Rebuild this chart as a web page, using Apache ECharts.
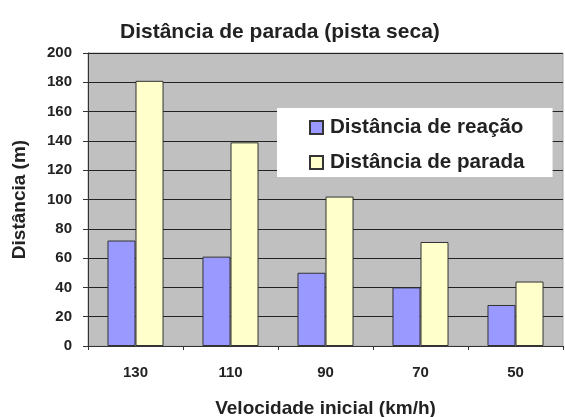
<!DOCTYPE html>
<html><head><meta charset="utf-8">
<script src="https://cdn.jsdelivr.net/npm/echarts@6/dist/echarts.min.js"></script>
<style>html,body{margin:0;padding:0;background:#fff}#c{width:565px;height:417px}</style>
</head><body><div id="c"></div>
<script>
const categories = ['130', '110', '90', '70', '50'];
const reacao = [72, 61, 50, 40, 28];
const parada = [181, 139, 102, 71, 44];
const seriesNames = ['Distância de reação', 'Distância de parada'];
const titleText = 'Distância de parada (pista seca)';
const xName = 'Velocidade inicial (km/h)';
const yName = 'Distância (m)';

const FONT = '"Liberation Sans", Arial, sans-serif';
const chart = echarts.init(document.getElementById('c'), null, {renderer: 'canvas'});
chart.setOption({
  animation: false,
  backgroundColor: '#fff',
  textStyle: {fontFamily: FONT},
  title: {
    text: titleText, left: 115, top: 17,
    textStyle: {fontFamily: FONT, fontSize: 21, fontWeight: 'bold', color: '#222'}
  },
  legend: {
    orient: 'vertical', left: 277, top: 108,
    backgroundColor: '#fff',
    padding: [9, 28, 4, 32],
    itemGap: 14,
    itemWidth: 13, itemHeight: 13,
    icon: 'rect',
    textStyle: {fontFamily: FONT, fontSize: 20.6, fontWeight: 'bold', color: '#222', padding: [0, 0, 0, 2]},
    data: seriesNames
  },
  grid: {
    left: 88, right: 2, top: 53, bottom: 71,
    outerBoundsMode: 'none', containLabel: false,
    show: true, backgroundColor: '#c0c0c0', borderColor: '#aaa', borderWidth: 1
  },
  xAxis: {
    type: 'category', data: categories,
    name: xName, nameLocation: 'middle', nameGap: 53,
    nameTextStyle: {fontFamily: FONT, fontSize: 19, fontWeight: 'bold', color: '#222'},
    axisLine: {show: true, lineStyle: {color: '#333', width: 1}},
    axisTick: {show: true, length: 4, lineStyle: {color: '#333'}},
    axisLabel: {fontFamily: FONT, fontSize: 15, fontWeight: 'bold', color: '#222', margin: 19}
  },
  yAxis: {
    type: 'value', min: 0, max: 200, interval: 20,
    name: yName, nameLocation: 'middle', nameGap: 59, nameRotate: 90,
    nameTextStyle: {fontFamily: FONT, fontSize: 19, fontWeight: 'bold', color: '#222'},
    axisLine: {show: true, lineStyle: {color: '#333', width: 1}},
    axisTick: {show: true, length: 5, lineStyle: {color: '#333'}},
    axisLabel: {fontFamily: FONT, fontSize: 15, fontWeight: 'bold', color: '#222', margin: 16},
    splitLine: {show: true, lineStyle: {color: '#222', width: 1}}
  },
  series: [
    {
      name: seriesNames[0], type: 'bar', data: reacao,
      barGap: '0%', barCategoryGap: '41%',
      itemStyle: {color: '#9999ff', borderColor: '#333', borderWidth: 1}
    },
    {
      name: seriesNames[1], type: 'bar', data: parada,
      itemStyle: {color: '#ffffcc', borderColor: '#333', borderWidth: 1}
    }
  ]
});
</script></body></html>
